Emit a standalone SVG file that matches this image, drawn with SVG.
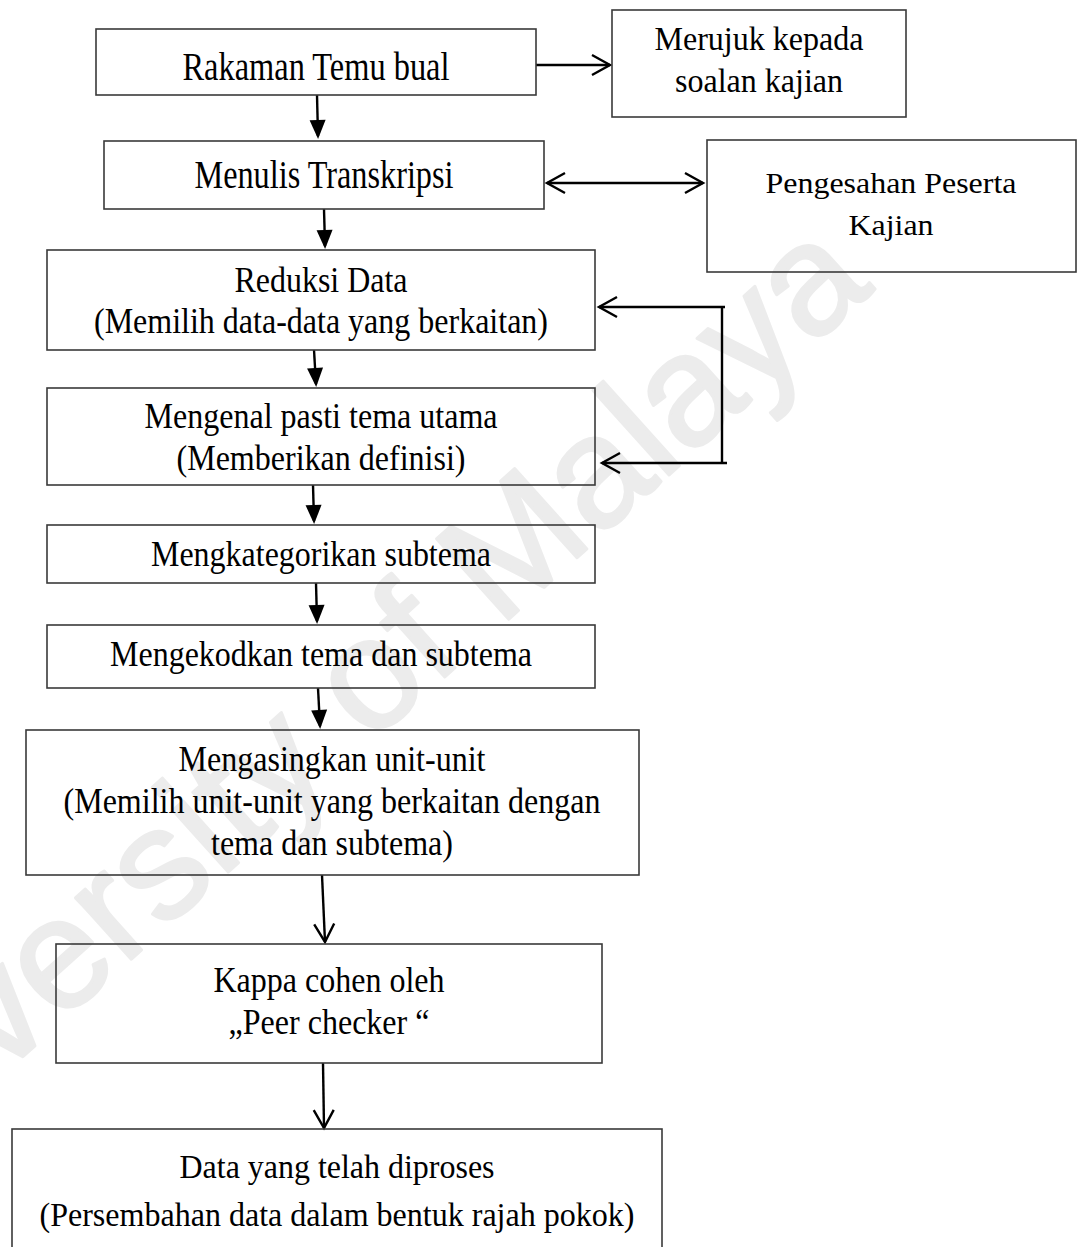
<svg xmlns="http://www.w3.org/2000/svg" width="1083" height="1247" viewBox="0 0 1083 1247">
  <defs>
    <style>
      .box { fill: none; stroke: #3a3a3a; stroke-width: 1.6; }
      .t { font-family: "Liberation Serif", "Times New Roman", serif; fill: #000; text-anchor: middle; }
      .wire { fill: none; stroke: #000; stroke-width: 2.4; }
      .mark { font-family: "Liberation Sans", Arial, sans-serif; fill: #ececec; stroke: #ececec; stroke-width: 3; stroke-linejoin: round; }
    </style>
    <!-- solid triangular head -->
    <marker id="solid" markerUnits="userSpaceOnUse" markerWidth="22" markerHeight="18" refX="16" refY="8" orient="auto" overflow="visible">
      <path d="M0,0 L19,8 L0,16 z" fill="#000"/>
    </marker>
    <!-- open chevron head -->
    <marker id="open" markerUnits="userSpaceOnUse" markerWidth="22" markerHeight="24" refX="18" refY="10" orient="auto-start-reverse" overflow="visible">
      <path d="M0,0 L18,10 L0,20" fill="none" stroke="#000" stroke-width="2.4" stroke-linejoin="miter"/>
    </marker>
  </defs>

  <rect width="1083" height="1247" fill="#fff"/>

  <!-- background watermark -->
  <text class="mark" x="-175" y="1235" font-size="157" transform="rotate(-42 -175 1235)">University of Malaya</text>

  <g id="connectors">
    <path class="wire" d="M317,95 L318,136" marker-end="url(#solid)"/>
    <path class="wire" d="M324,209 L325,246" marker-end="url(#solid)"/>
    <path class="wire" d="M314,350 L316,384" marker-end="url(#solid)"/>
    <path class="wire" d="M313,485 L314,521" marker-end="url(#solid)"/>
    <path class="wire" d="M316,583 L317,621" marker-end="url(#solid)"/>
    <path class="wire" d="M318,688 L320,726" marker-end="url(#solid)"/>
    <path class="wire" d="M322,875 L325,942" marker-end="url(#open)"/>
    <path class="wire" d="M323,1063 L324,1128" marker-end="url(#open)"/>
    <path class="wire" d="M536,65 L610,65" marker-end="url(#open)"/>
    <path class="wire" d="M547,183 L703,183" marker-start="url(#open)" marker-end="url(#open)"/>
    <path class="wire" d="M725,307 L599,307" marker-end="url(#open)"/>
    <path class="wire" d="M722,306 L722,464"/>
    <path class="wire" d="M727,463 L602,463" marker-end="url(#open)"/>
  </g>

  <g id="rakaman">
    <rect class="box" x="96" y="29" width="440" height="66"/>
    <text class="t" x="316" y="80" font-size="40" textLength="267" lengthAdjust="spacingAndGlyphs">Rakaman Temu bual</text>
  </g>

  <g id="merujuk">
    <rect class="box" x="612" y="10" width="294" height="107"/>
    <text class="t" x="759" y="50" font-size="33" textLength="209" lengthAdjust="spacingAndGlyphs">Merujuk kepada</text>
    <text class="t" x="759" y="92" font-size="33" textLength="168" lengthAdjust="spacingAndGlyphs">soalan kajian</text>
  </g>

  <g id="transkripsi">
    <rect class="box" x="104" y="141" width="440" height="68"/>
    <text class="t" x="324" y="188" font-size="39" textLength="259" lengthAdjust="spacingAndGlyphs">Menulis Transkripsi</text>
  </g>

  <g id="pengesahan">
    <rect class="box" x="707" y="140" width="369" height="132"/>
    <text class="t" x="891" y="193" font-size="30" textLength="251" lengthAdjust="spacingAndGlyphs">Pengesahan Peserta</text>
    <text class="t" x="891" y="235" font-size="30" textLength="85" lengthAdjust="spacingAndGlyphs">Kajian</text>
  </g>

  <g id="reduksi">
    <rect class="box" x="47" y="250" width="548" height="100"/>
    <text class="t" x="321" y="292" font-size="35" textLength="173" lengthAdjust="spacingAndGlyphs">Reduksi Data</text>
    <text class="t" x="321" y="333" font-size="35" textLength="454" lengthAdjust="spacingAndGlyphs">(Memilih data-data yang berkaitan)</text>
  </g>

  <g id="tema-utama">
    <rect class="box" x="47" y="388" width="548" height="97"/>
    <text class="t" x="321" y="428" font-size="35" textLength="353" lengthAdjust="spacingAndGlyphs">Mengenal pasti tema utama</text>
    <text class="t" x="321" y="470" font-size="35" textLength="289" lengthAdjust="spacingAndGlyphs">(Memberikan definisi)</text>
  </g>

  <g id="kategori">
    <rect class="box" x="47" y="525" width="548" height="58"/>
    <text class="t" x="321" y="566" font-size="35" textLength="340" lengthAdjust="spacingAndGlyphs">Mengkategorikan subtema</text>
  </g>

  <g id="kod">
    <rect class="box" x="47" y="625" width="548" height="63"/>
    <text class="t" x="321" y="666" font-size="35" textLength="422" lengthAdjust="spacingAndGlyphs">Mengekodkan tema dan subtema</text>
  </g>

  <g id="unit">
    <rect class="box" x="26" y="730" width="613" height="145"/>
    <text class="t" x="332" y="771" font-size="35" textLength="307" lengthAdjust="spacingAndGlyphs">Mengasingkan unit-unit</text>
    <text class="t" x="332" y="813" font-size="35" textLength="537" lengthAdjust="spacingAndGlyphs">(Memilih unit-unit yang berkaitan dengan</text>
    <text class="t" x="332" y="855" font-size="35" textLength="242" lengthAdjust="spacingAndGlyphs">tema dan subtema)</text>
  </g>

  <g id="kappa">
    <rect class="box" x="56" y="944" width="546" height="119"/>
    <text class="t" x="329" y="992" font-size="35" textLength="231" lengthAdjust="spacingAndGlyphs">Kappa cohen oleh</text>
    <text class="t" x="329" y="1034" font-size="35" textLength="201" lengthAdjust="spacingAndGlyphs">„Peer checker “</text>
  </g>

  <g id="hasil">
    <rect class="box" x="12" y="1129" width="650" height="140"/>
    <text class="t" x="337" y="1178" font-size="33" textLength="315" lengthAdjust="spacingAndGlyphs">Data yang telah diproses</text>
    <text class="t" x="337" y="1226" font-size="33" textLength="595" lengthAdjust="spacingAndGlyphs">(Persembahan data dalam bentuk rajah pokok)</text>
  </g>
</svg>
